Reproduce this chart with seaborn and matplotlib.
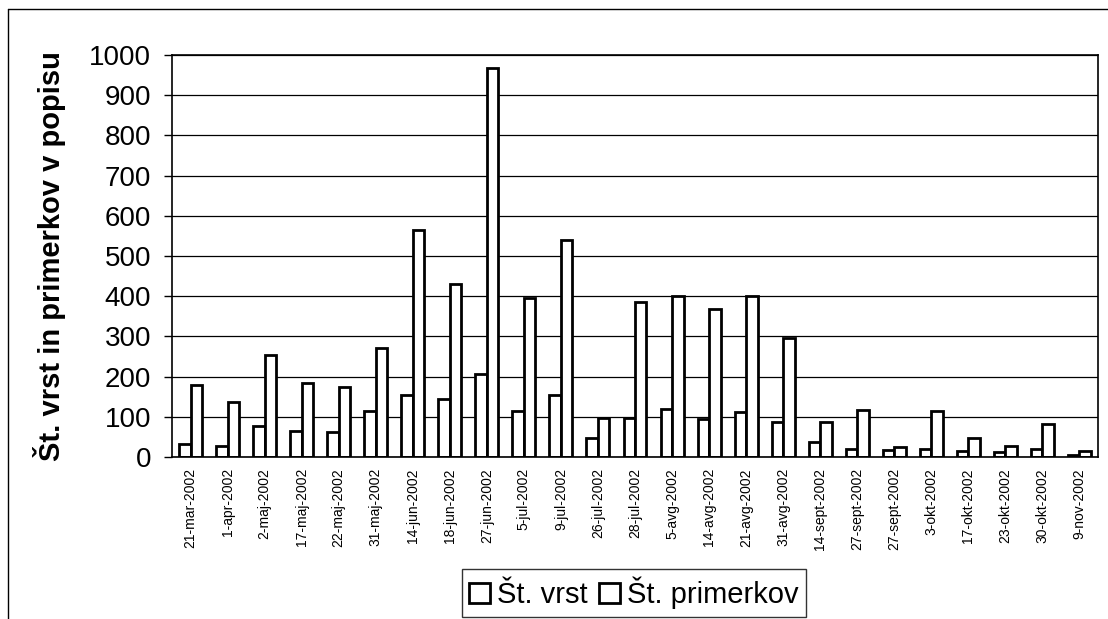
import numpy as np
import pandas as pd
import matplotlib
matplotlib.use("Agg")
import matplotlib.pyplot as plt
import seaborn as sns
from matplotlib.lines import Line2D
from matplotlib.patches import Patch

dates = ["21-mar-2002", "1-apr-2002", "2-maj-2002", "17-maj-2002", "22-maj-2002",
         "31-maj-2002", "14-jun-2002", "18-jun-2002", "27-jun-2002", "5-jul-2002",
         "9-jul-2002", "26-jul-2002", "28-jul-2002", "5-avg-2002", "14-avg-2002",
         "21-avg-2002", "31-avg-2002", "14-sept-2002", "27-sept-2002", "27-sept-2002",
         "3-okt-2002", "17-okt-2002", "23-okt-2002", "30-okt-2002", "9-nov-2002"]
st_vrst = [32, 27, 78, 65, 63, 115, 155, 145, 207, 115, 155, 48, 97, 120, 95,
           112, 88, 37, 20, 18, 20, 15, 12, 20, 5]
st_primerkov = [178, 138, 253, 185, 175, 272, 565, 430, 968, 395, 540, 97, 385, 400, 368,
                400, 295, 87, 117, 25, 115, 47, 28, 83, 15]
series_names = ["Št. vrst", "Št. primerkov"]

n = len(dates)
df = pd.DataFrame({
    "idx": list(range(n)) * 2,
    "value": st_vrst + st_primerkov,
    "series": [series_names[0]] * n + [series_names[1]] * n,
})

sns.set_style("white")
plt.rcParams["font.family"] = ["Liberation Sans", "DejaVu Sans"]
plt.rcParams.update({"text.color": "black", "axes.labelcolor": "black",
                     "xtick.color": "black", "ytick.color": "black"})

W, H = 1108, 619
fig = plt.figure(figsize=(W / 100, H / 100), dpi=100)
ax = fig.add_axes([172 / W, 1 - 457 / H, (1098 - 172) / W, (457 - 55) / H])

sns.barplot(data=df, x="idx", y="value", hue="series", order=list(range(n)),
            hue_order=series_names, palette=["white", "white"], width=0.62,
            edgecolor="black", linewidth=2.0, ax=ax, legend=False, saturation=1)

ax.set_xlim(-0.5, n - 0.5)
ax.set_ylim(0, 1000)
ax.set_yticks(np.arange(0, 1001, 100))
ax.yaxis.grid(True, color="black", linewidth=0.9)
ax.set_axisbelow(True)
ax.set_xticks(range(n))
ax.set_xticklabels(dates, rotation=90, fontsize=10)
ax.set_xticks(np.arange(-0.5, n, 1), minor=True)
ax.tick_params(axis="x", which="major", length=0, pad=8, labelcolor="black")
ax.tick_params(axis="x", which="minor", length=4, width=1, color="black", direction="out")
ax.tick_params(axis="y", length=6, width=1, color="black", direction="out", labelsize=20,
               left=True, pad=9, labelcolor="black")
ax.set_xlabel("")
ax.set_ylabel("Št. vrst in primerkov v popisu", fontsize=21, fontweight="bold", color="black")
ax.yaxis.set_label_coords((66 - 172) / (1098 - 172), 0.5)
for s in ["top", "right", "left", "bottom"]:
    ax.spines[s].set_visible(True)
    ax.spines[s].set_color("black")
    ax.spines[s].set_linewidth(1.2)

handles = [Patch(facecolor="white", edgecolor="black", linewidth=2.0) for _ in series_names]
leg = fig.legend(handles, series_names, loc="center", bbox_to_anchor=(634 / W, 1 - 593 / H),
                 ncol=2, fontsize=21, frameon=True, fancybox=False, edgecolor="black",
                 handlelength=0.7, handleheight=0.7, handletextpad=0.25, columnspacing=0.4,
                 borderpad=0.25, borderaxespad=0, labelcolor="black")
leg.get_frame().set_linewidth(1.0)

# outer chart frame (top and left edges visible in the reference)
fig.add_artist(Line2D([8 / W, 1.0], [1 - 9 / H, 1 - 9 / H], transform=fig.transFigure,
                      color="black", linewidth=1.0))
fig.add_artist(Line2D([8 / W, 8 / W], [0.0, 1 - 9 / H], transform=fig.transFigure,
                      color="black", linewidth=1.0))

fig.savefig("out.png", dpi=100, facecolor="white")
